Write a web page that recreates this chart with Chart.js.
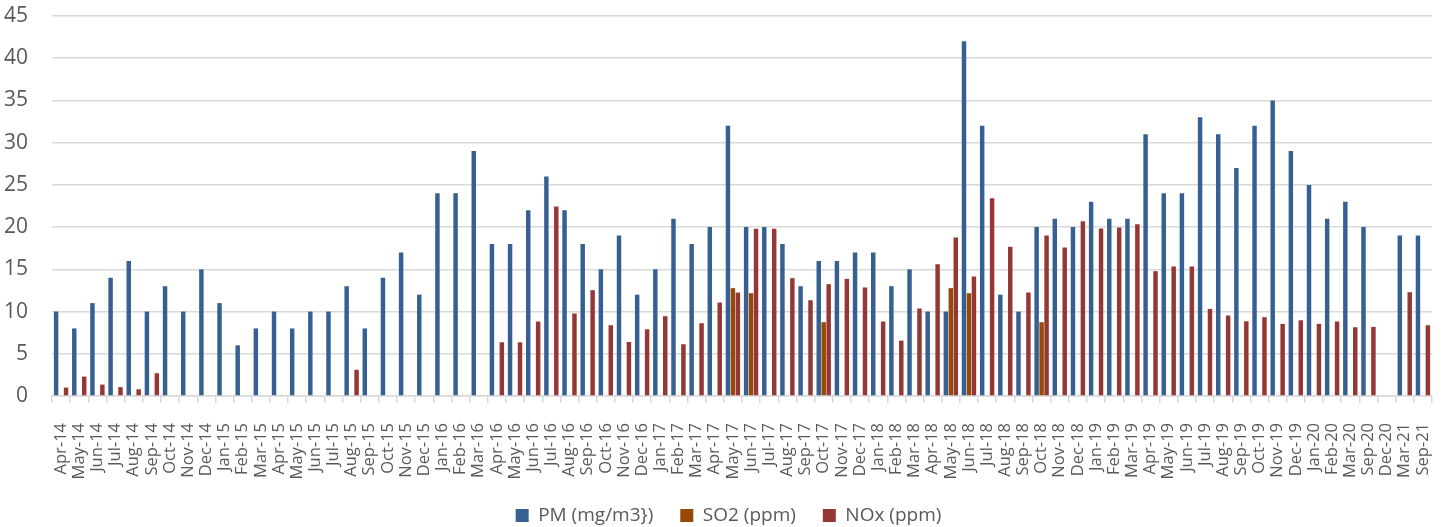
<!DOCTYPE html>
<html>
<head>
<meta charset="utf-8">
<script src="https://cdn.jsdelivr.net/npm/chart.js@4"></script>
<style>
  html, body { margin: 0; padding: 0; background: #ffffff; }
  #wrap { width: 1449px; height: 527px; position: relative; }
</style>
</head>
<body>
<div id="wrap"><canvas id="c" width="1449" height="527"></canvas></div>
<script>
// Monthly sampling dates
const months = [
  'Apr-14','May-14','Jun-14','Jul-14','Aug-14','Sep-14','Oct-14','Nov-14','Dec-14',
  'Jan-15','Feb-15','Mar-15','Apr-15','May-15','Jun-15','Jul-15','Aug-15','Sep-15','Oct-15','Nov-15','Dec-15',
  'Jan-16','Feb-16','Mar-16','Apr-16','May-16','Jun-16','Jul-16','Aug-16','Sep-16','Oct-16','Nov-16','Dec-16',
  'Jan-17','Feb-17','Mar-17','Apr-17','May-17','Jun-17','Jul-17','Aug-17','Sep-17','Oct-17','Nov-17','Dec-17',
  'Jan-18','Feb-18','Mar-18','Apr-18','May-18','Jun-18','Jul-18','Aug-18','Sep-18','Oct-18','Nov-18','Dec-18',
  'Jan-19','Feb-19','Mar-19','Apr-19','May-19','Jun-19','Jul-19','Aug-19','Sep-19','Oct-19','Nov-19','Dec-19',
  'Jan-20','Feb-20','Mar-20','Sep-20','Dec-20','Mar-21','Sep-21'
];

// Particulate matter (mg/m3)
const pmValues = [
  10, 8, 11, 14, 16, 10, 13, 10, 15,
  11, 6, 8, 10, 8, 10, 10, 13, 8, 14, 17, 12,
  24, 24, 29, 18, 18, 22, 26, 22, 18, 15, 19, 12,
  15, 21, 18, 20, 32, 20, 20, 18, 13, 16, 16, 17,
  17, 13, 15, 10, 10, 42, 32, 12, 10, 20, 21, 20,
  23, 21, 21, 31, 24, 24, 33, 31, 27, 32, 35, 29,
  25, 21, 23, 20, null, 19, 19
];

// Sulphur dioxide (ppm)
const so2Values = [
  null, null, null, null, null, null, null, null, null,
  null, null, null, null, null, null, null, null, null, null, null, null,
  null, null, null, null, null, null, null, null, null, null, null, null,
  null, null, null, null, 12.77, 12.17, null, null, null, 8.74, null, null,
  null, null, null, null, 12.77, 12.17, null, null, null, 8.74, null, null,
  null, null, null, null, null, null, null, null, null, null, null, null,
  null, null, null, null, null, null, null
];

// Nitrogen oxides (ppm)
const noxValues = [
  1.0, 2.3, 1.35, 1.05, 0.8, 2.7, null, null, null,
  null, null, null, null, null, null, null, 3.1, null, null, null, null,
  null, null, null, 6.36, 6.36, 8.82, 22.45, 9.77, 12.53, 8.38, 6.4, 7.9,
  9.45, 6.13, 8.62, 11.07, 12.25, 19.8, 19.8, 13.95, 11.34, 13.24, 13.87, 12.85,
  8.82, 6.56, 10.36, 15.6, 18.77, 14.15, 23.43, 17.66, 12.25, 19.0, 17.58, 20.7,
  19.84, 19.96, 20.35, 14.78, 15.34, 15.34, 10.32, 9.53, 8.85, 9.33, 8.54, 8.97,
  8.54, 8.82, 8.14, 8.18, null, 12.29, 8.38
];

const seriesNames = ['PM (mg/m3})', 'SO2 (ppm)', 'NOx (ppm)'];
const seriesColors = ['#376092', '#984807', '#953735'];

const FONT = '"Open Sans", "Liberation Sans", sans-serif';
const TEXT = '#595959';
const GRID = '#d9d9d9';

// Fixed band sizes around the plot
const Y_AXIS_WIDTH = 52;
const X_AXIS_HEIGHT = 83;
const LEGEND_HEIGHT = 48;
const LEGEND_SHIFT = 25;

function barSet(label, data, color) {
  return {
    label, data,
    backgroundColor: color,
    borderWidth: 0,
    categoryPercentage: 0.82,
    barPercentage: 0.9
  };
}

// Keeps the legend band compact and centred under the plot area
const legendBand = {
  id: 'legendBand',
  afterInit(chart) {
    const lg = chart.legend;
    if (!lg) return;
    const fit = lg.fit.bind(lg);
    lg.fit = function () { fit(); this.height = LEGEND_HEIGHT; };
  },
  afterLayout(chart) {
    if (chart.legend) chart.legend.left += LEGEND_SHIFT;
  }
};

new Chart(document.getElementById('c'), {
  type: 'bar',
  data: {
    labels: months,
    datasets: [
      barSet(seriesNames[0], pmValues, seriesColors[0]),
      barSet(seriesNames[1], so2Values, seriesColors[1]),
      barSet(seriesNames[2], noxValues, seriesColors[2])
    ]
  },
  plugins: [legendBand],
  options: {
    responsive: false,
    animation: false,
    layout: { padding: { top: 16, right: 17, left: 0, bottom: 0 } },
    plugins: {
      legend: {
        position: 'bottom',
        labels: {
          font: { family: FONT, size: 19 },
          color: TEXT,
          boxWidth: 13,
          boxHeight: 13,
          padding: 27
        }
      },
      tooltip: { enabled: false }
    },
    scales: {
      x: {
        afterFit: s => {
          s.height = X_AXIS_HEIGHT;
          s.paddingLeft = 0;
          s.paddingRight = 0;
        },
        grid: {
          display: true,
          drawOnChartArea: false,
          drawTicks: true,
          tickLength: 7,
          color: GRID,
          lineWidth: 1.5,
          offset: true
        },
        border: { display: true, color: GRID, width: 1.5 },
        ticks: {
          autoSkip: false,
          maxRotation: 90,
          minRotation: 90,
          font: { family: FONT, size: 16.5 },
          color: TEXT,
          padding: 20
        }
      },
      y: {
        min: 0,
        max: 45,
        afterFit: s => { s.width = Y_AXIS_WIDTH; s.paddingTop = 0; s.paddingBottom = 0; },
        grid: { color: GRID, lineWidth: 1.5, drawTicks: false },
        border: { display: false },
        ticks: {
          stepSize: 5,
          font: { family: FONT, size: 21 },
          color: TEXT,
          padding: 24
        }
      }
    }
  }
});
</script>
</body>
</html>
